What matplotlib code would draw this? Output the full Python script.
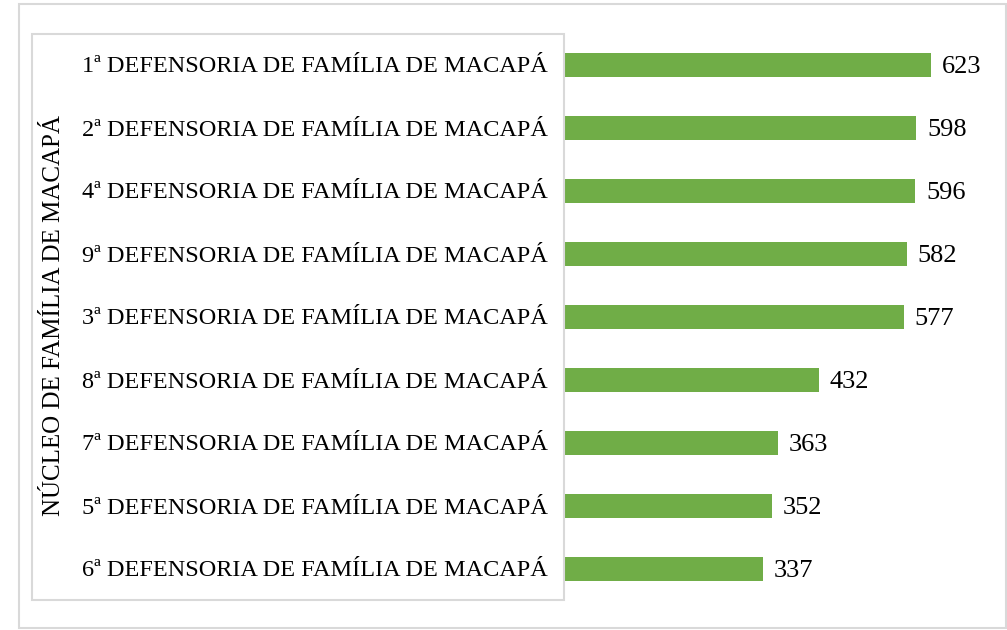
import matplotlib
matplotlib.use("Agg")
import matplotlib.pyplot as plt
from matplotlib.patches import Rectangle

# ── data ──────────────────────────────────────────────────────────────────────
nucleos = [
    "1ª DEFENSORIA DE FAMÍLIA DE MACAPÁ",
    "2ª DEFENSORIA DE FAMÍLIA DE MACAPÁ",
    "4ª DEFENSORIA DE FAMÍLIA DE MACAPÁ",
    "9ª DEFENSORIA DE FAMÍLIA DE MACAPÁ",
    "3ª DEFENSORIA DE FAMÍLIA DE MACAPÁ",
    "8ª DEFENSORIA DE FAMÍLIA DE MACAPÁ",
    "7ª DEFENSORIA DE FAMÍLIA DE MACAPÁ",
    "5ª DEFENSORIA DE FAMÍLIA DE MACAPÁ",
    "6ª DEFENSORIA DE FAMÍLIA DE MACAPÁ",
]
valores = [623, 598, 596, 582, 577, 432, 363, 352, 337]
eixo_titulo = "NÚCLEO DE FAMÍLIA DE MACAPÁ"

BAR_COLOR = "#70AD47"
BORDER = "#d9d9d9"
W, H = 1007, 630

plt.rcParams["font.family"] = ["Liberation Serif", "DejaVu Serif"]

fig = plt.figure(figsize=(W / 100, H / 100), dpi=100)
fig.patch.set_facecolor("white")

# axes placed in pixel terms: x=0 at px 565, bars spaced 63 px
ax_left, ax_right = 565, 976
ax_top, ax_bottom = 33.5, 600.5
ax = fig.add_axes([ax_left / W, 1 - ax_bottom / H,
                   (ax_right - ax_left) / W, (ax_bottom - ax_top) / H])

y = list(range(len(valores)))
ax.barh(y, valores, height=0.39, color=BAR_COLOR)
ax.set_xlim(0, 700)
ax.set_ylim(len(valores) - 0.5, -0.5)
ax.axis("off")

# value labels
for yi, v in zip(y, valores):
    ax.annotate(str(v), xy=(v, yi), xytext=(11, -2), textcoords="offset pixels",
                ha="left", va="center", fontsize=19, color="black")

# category labels (right-aligned, ending before the bars)
for yi, lab in zip(y, nucleos):
    ax.annotate(lab, xy=(0, yi), xycoords="data", xytext=(-17, -2),
                textcoords="offset pixels", ha="right", va="center",
                fontsize=17.5, color="black")

# outer chart border and inner label box
fig.patches.append(Rectangle((19 / W, 1 - 628 / H), (1006 - 19) / W, (628 - 4) / H,
                             transform=fig.transFigure, fill=False,
                             edgecolor=BORDER, linewidth=1.5))
fig.patches.append(Rectangle((32 / W, 1 - 600 / H), (564 - 32) / W, (600 - 34) / H,
                             transform=fig.transFigure, fill=False,
                             edgecolor=BORDER, linewidth=1.5))

fig.text(54 / W, 1 - 315 / H, eixo_titulo, rotation=90, ha="center", va="center",
         fontsize=18, color="black")

fig.savefig("out.png", dpi=100, facecolor="white")
